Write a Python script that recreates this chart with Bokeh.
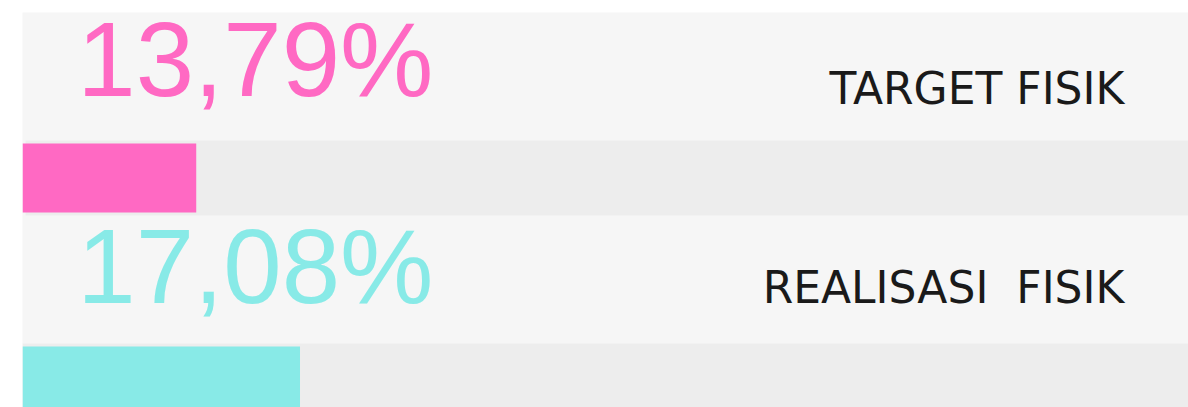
from bokeh.plotting import figure
from bokeh.models import Range1d
from bokeh.core.properties import value
from bokeh.embed import file_html
from bokeh.resources import INLINE

# ---- data ----
categories = ["TARGET FISIK", "REALISASI  FISIK"]
value_labels = ["13,79%", "17,08%"]
bar_fill = [14.9, 23.8]          # bar length, % of the track
bar_colors = ["#FF69C3", "#88EAE7"]

# SVG collapses double spaces: keep them visible with a no-break space
display_categories = [c.replace("  ", "\u00a0 ") for c in categories]

# ---- layout (data units: x 0..100 across track, y 0..395 bottom->top) ----
row_base = [192, 0]       # bottom of each track
track_h = 75

p = figure(width=1188, height=407, output_backend="svg", toolbar_location=None,
           x_range=Range1d(0, 100), y_range=Range1d(0, 395),
           min_border_left=22, min_border_top=12, min_border_right=0, min_border_bottom=0)
p.background_fill_color = "#F6F6F6"
p.border_fill_color = "white"
p.outline_line_color = None
p.axis.visible = False
p.grid.visible = False

# tracks
p.quad(left=[0.26, 0], right=[100, 100],
       bottom=[row_base[0], -20], top=[row_base[0] + track_h, 64],
       fill_color="#EDEDED", line_color=None)
# bars
p.quad(left=[0, 0], right=bar_fill,
       bottom=[row_base[0] + 3, -20], top=[row_base[0] + track_h - 3, 61],
       fill_color=bar_colors, line_color=None)

# big value labels
p.text(x=[4.7, 4.7], y=[348, 141], text=value_labels, text_color=bar_colors,
       text_font=value("Liberation Sans"), text_font_size="105px",
       text_align="left", text_baseline="alphabetic")
# category labels
p.text(x=[94.5, 94.5], y=[319, 120], text=display_categories, text_color="#1A1A1A",
       text_font=value("DejaVu Sans"), text_font_size="44px",
       text_align="right", text_baseline="alphabetic")

open("out.html", "w").write(file_html(p, INLINE))
